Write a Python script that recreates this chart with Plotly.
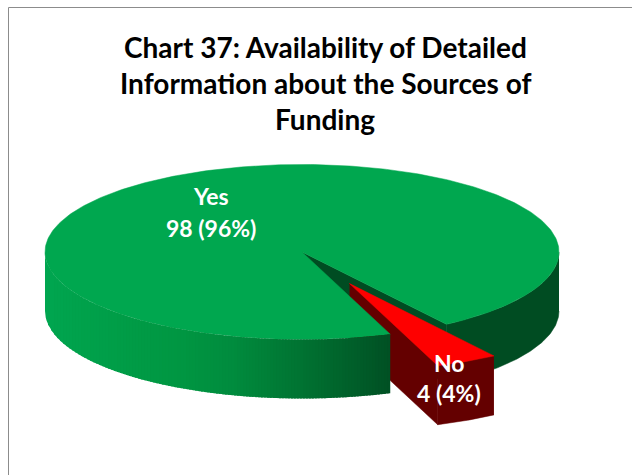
import numpy as np
import plotly.graph_objects as go

categories = ["Yes", "No"]
values = [98, 4]
percent_labels = ["96%", "4%"]
title_lines = ["Chart 37: Availability of Detailed",
               "Information about the Sources of",
               "Funding"]

W, H = 632, 475
CX, CY, RX, RY, DEPTH = 302, 252, 257, 87.5, 59
START_DEG = 55.8
EXPLODE = 0.405

frac = values[1] / sum(values)
a0 = np.radians(START_DEG)
a1 = a0 + 2 * np.pi * frac
mid = (a0 + a1) / 2
OX = RX * EXPLODE * np.cos(mid)
OY = RY * EXPLODE * np.sin(mid)

GREEN_TOP = "#00a74f"
RED_TOP = "#fe0000"
DARK_GREEN = "#004c22"
DARK_RED = "#640000"


def rim(t, dx=0.0, dy=0.0):
    return CX + dx + RX * np.cos(t), CY + dy + RY * np.sin(t)


fig = go.Figure()


def poly(x, y, color, width=0.5):
    fig.add_trace(go.Scatter(x=list(x), y=list(y), mode="lines", fill="toself",
                             fillcolor=color, line=dict(color=color, width=width),
                             hoverinfo="skip", showlegend=False))


def lerp_color(stops, u):
    us = [s[0] for s in stops]
    r = np.interp(u, us, [s[1][0] for s in stops])
    g = np.interp(u, us, [s[1][1] for s in stops])
    b = np.interp(u, us, [s[1][2] for s in stops])
    return f"rgb({int(r)},{int(g)},{int(b)})"


# far wall of the pie, visible through the notch and on the right-hand rim
t_right = np.linspace(0, a0, 80)
xr, yr = rim(t_right)
poly(np.r_[xr, xr[::-1]], np.r_[yr, yr[::-1] + DEPTH], DARK_GREEN)

# inner walls of the notch
poly([CX, rim(a0)[0], rim(a0)[0], CX],
     [CY, rim(a0)[1], rim(a0)[1] + DEPTH, CY + DEPTH], DARK_GREEN)

# exploded slice: inner wall, drawn before the green slice covers it
rx0, ry0 = rim(a0, OX, OY)
rx1, ry1 = rim(a1, OX, OY)
tipx, tipy = CX + OX, CY + OY
poly([tipx, rx1, rx1, tipx], [tipy, ry1, ry1 + DEPTH, tipy + DEPTH], DARK_RED)

# green slice: top face
t_green = np.linspace(a1, a0 + 2 * np.pi, 400)
xg, yg = rim(t_green)
poly(np.r_[CX, xg, CX], np.r_[CY, yg, CY], GREEN_TOP)

# green slice: outer front wall, strips evenly spaced along x, left to right,
# each one overlapping the next so that no seams show
stops = [(0.0, (0, 166, 80)), (0.2, (0, 158, 72)), (0.4, (0, 150, 66)),
         (0.54, (0, 140, 62)), (0.74, (0, 115, 50)), (0.89, (0, 95, 42)),
         (1.0, (0, 80, 36))]
x_left, x_right = rim(np.pi)[0], rim(a1)[0]
x_edges = np.linspace(x_left, x_right, 116)
for i in range(len(x_edges) - 1):
    xa, xb = x_edges[i], min(x_edges[i + 1] + 1.5, x_right)
    ta = np.arccos(np.clip((xa - CX) / RX, -1, 1))
    tb = np.arccos(np.clip((xb - CX) / RX, -1, 1))
    t = np.linspace(ta, tb, 6)
    x, y = rim(t)
    u = (xa - x_left) / (x_right - x_left)
    poly(np.r_[x, x[::-1]], np.r_[y, y[::-1] + DEPTH], lerp_color(stops, u), width=0)

# exploded slice: outer wall and top face
t_red = np.linspace(a0, a1, 30)
xo, yo = rim(t_red, OX, OY)
poly(np.r_[xo, xo[::-1]], np.r_[yo, yo[::-1] + DEPTH], DARK_RED)
poly(np.r_[tipx, xo, tipx], np.r_[tipy, yo, tipy], RED_TOP)

# chart frame
fig.add_trace(go.Scatter(x=[8.5, 8.5, W], y=[H, 7.5, 7.5], mode="lines",
                         line=dict(color="#8c8c8c", width=1),
                         hoverinfo="skip", showlegend=False))

annotations = []
for line, yy in zip(title_lines, [47, 83, 119]):
    annotations.append(dict(x=325, y=yy, text=f"<b>{line}</b>", showarrow=False,
                            xanchor="center", yanchor="middle",
                            font=dict(family="Lato", size=28, color="#000000")))
label_pos = [(211, 196, 228), (449, 363, 393)]
for c, v, p, (lx, y1, y2) in zip(categories, values, percent_labels, label_pos):
    annotations.append(dict(x=lx, y=y1, text=f"<b>{c}</b>", showarrow=False,
                            font=dict(family="Lato", size=23, color="#ffffff")))
    annotations.append(dict(x=lx, y=y2, text=f"<b>{v} ({p})</b>", showarrow=False,
                            font=dict(family="Lato", size=23, color="#ffffff")))

fig.update_layout(
    width=W, height=H, margin=dict(l=0, r=0, t=0, b=0),
    paper_bgcolor="white", plot_bgcolor="white", showlegend=False,
    xaxis=dict(range=[0, W], visible=False, fixedrange=True),
    yaxis=dict(range=[H, 0], visible=False, fixedrange=True),
    annotations=annotations,
)
fig.write_html("out.html", config={"displayModeBar": False},
               post_script="document.body.style.margin='0';document.body.style.overflow='hidden';")
